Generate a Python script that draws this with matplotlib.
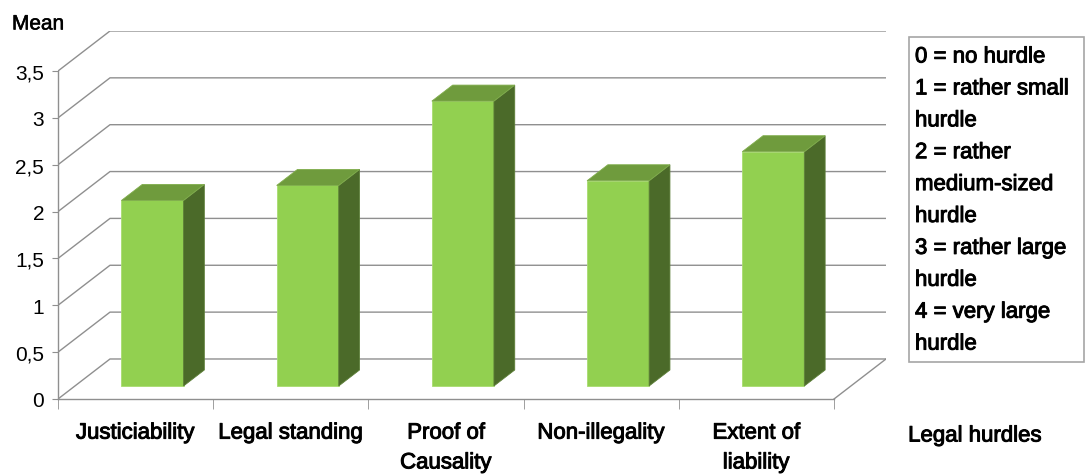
import matplotlib
matplotlib.use("Agg")
import matplotlib.pyplot as plt
import matplotlib.patheffects as pe
from matplotlib.patches import Polygon, Rectangle

categories = ["Justiciability", "Legal standing", "Proof of\nCausality",
              "Non-illegality", "Extent of\nliability"]
means = [1.98, 2.14, 3.04, 2.19, 2.50]
yticks = [0, 0.5, 1, 1.5, 2, 2.5, 3, 3.5]
ytick_labels = ["0", "0,5", "1", "1,5", "2", "2,5", "3", "3,5"]
legend_lines = ["0 = no hurdle", "1 = rather small", "hurdle", "2 = rather",
                "medium-sized", "hurdle", "3 = rather large", "hurdle",
                "4 = very large", "hurdle"]

plt.rcParams['font.family'] = ['Liberation Sans', 'DejaVu Sans']
FS = 15
LFS = 16
heavy = [pe.withStroke(linewidth=0.7, foreground='black')]
W, H = 1086, 477

# pseudo-3D depth offsets (in data units)
DX, DY = 0.335, 0.427
ncat = len(categories)
ymax = yticks[-1]

fig = plt.figure(figsize=(W / 100, H / 100), dpi=100)
# front axis: x 58..834 px, y 0 -> 400 px, 3.5 -> 72 px
left, bottom = 58 / W, 1 - 400 / H
xw = (834 - 58) / ncat * (ncat + DX) / W
yh = (400 - 72) / ymax * (ymax + DY) / H
ax = fig.add_axes([left, bottom, xw, yh])
ax.set_xlim(0, ncat + DX)
ax.set_ylim(0, ymax + DY)

grid_c = '#8f8f8f'
# back wall + left wall gridlines
for v in yticks:
    ax.plot([0, DX, ncat + DX], [v, v + DY, v + DY], color=grid_c, lw=1, zorder=1)
# floor right edge
ax.plot([ncat, ncat + DX], [0, DY], color=grid_c, lw=1, zorder=1)

# bars
f, d, bw = 0.325, 0.40, 0.40
front_c, side_c, top_c = '#92D050', '#4B6A29', '#6F9B3D'
for i, v in enumerate(means):
    x0 = i + 0.5 - bw / 2 + f * DX
    y0 = f * DY
    ox, oy = d * DX, d * DY
    ax.add_patch(Polygon([(x0, y0), (x0 + bw, y0), (x0 + bw, y0 + v), (x0, y0 + v)],
                         closed=True, fc=front_c, ec='#a8dc70', lw=0.6, zorder=3))
    ax.add_patch(Polygon([(x0 + bw, y0), (x0 + bw + ox, y0 + oy),
                          (x0 + bw + ox, y0 + oy + v), (x0 + bw, y0 + v)],
                         closed=True, fc=side_c, ec='#5d7f38', lw=0.6, zorder=3))
    ax.add_patch(Polygon([(x0, y0 + v), (x0 + bw, y0 + v),
                          (x0 + bw + ox, y0 + oy + v), (x0 + ox, y0 + oy + v)],
                         closed=True, fc=top_c, ec='#80ad4c', lw=0.6, zorder=3))

for s in ['top', 'right']:
    ax.spines[s].set_visible(False)
ax.spines['left'].set_bounds(0, ymax)
ax.spines['bottom'].set_bounds(0, ncat)
for s in ['left', 'bottom']:
    ax.spines[s].set_color(grid_c)
    ax.spines[s].set_linewidth(1)

ax.set_yticks(yticks, ytick_labels)
ax.tick_params(axis='y', length=4, color=grid_c, pad=6, labelsize=FS)
ax.set_xticks([i + 0.5 for i in range(ncat)], categories)
ax.set_xticks(range(ncat + 1), minor=True)
ax.tick_params(axis='x', which='major', length=0, pad=17, labelsize=LFS)
ax.tick_params(axis='x', which='minor', length=7, color=grid_c)
for lab in ax.get_xticklabels():
    lab.set_linespacing(1.55)
    lab.set_path_effects(heavy)

fig.text(12 / W, 1 - 25 / H, "Mean", fontsize=FS, va='center', ha='left',
         path_effects=[pe.withStroke(linewidth=0.4, foreground='black')])
fig.text(975 / W, 1 - 437 / H, "Legal hurdles", fontsize=LFS, va='center', ha='center',
         path_effects=heavy)

# legend box
fig.patches.append(Rectangle((909 / W, 1 - 363 / H), (1084 - 909) / W, (363 - 38) / H,
                             transform=fig.transFigure, fc='white', ec='#a6a6a6', lw=1.2))
for k, line in enumerate(legend_lines):
    fig.text(915 / W, 1 - (58 + k * 31.9) / H, line, fontsize=LFS, va='center', ha='left',
             path_effects=heavy)

fig.savefig("out.png", dpi=100)
